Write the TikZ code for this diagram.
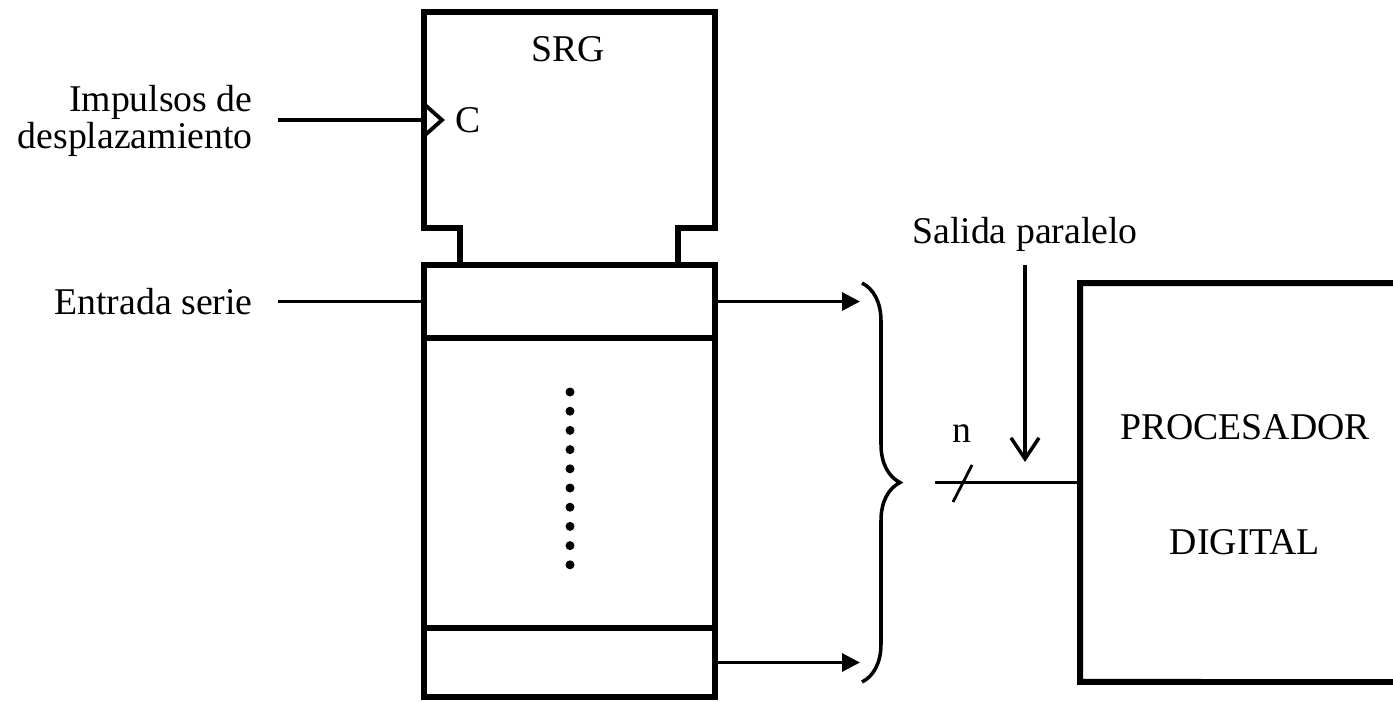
\documentclass[tikz,border=0pt]{standalone}
\usepackage{fontspec}
\setmainfont{Liberation Serif}
\usetikzlibrary{arrows.meta,positioning,decorations.pathreplacing}
\newcommand\dgfont{\fontsize{21.5}{26}\selectfont}
\tikzset{
  blk/.style    ={draw, rectangle, inner sep=0pt, outer sep=0pt,
                  minimum width=5.82cm, line width=3.4pt},
  procbox/.style={rectangle, inner sep=0pt, outer sep=0pt,
                  minimum width=8cm, minimum height=7.98cm},
  lbl/.style    ={font=\dgfont, inner xsep=0.5cm, inner ysep=2pt},
  wire/.style   ={line width=2.2pt},
  outarr/.style ={-{Triangle[length=0.36cm, width=0.36cm]}, line width=1.8pt},
  inarr/.style  ={-{Straight Barb[length=0.42cm, width=0.56cm, line width=2pt]},
                  line width=1.8pt},
  bus/.style    ={line width=2.2pt},
}
\begin{document}
\begin{tikzpicture}[x=0.02cm, y=-0.02cm]
  \useasboundingbox (0,0) rectangle (1393,701);
  % ---- control block of the shift register
  \coordinate (cl) at (460,265);
  \coordinate (cr) at (678,265);
  \draw[line width=3.4pt] (cl) -- (460,228) -- (424,228) -- (424,12)
    -- (715,12) -- (715,228) -- (678,228) -- (cr);
  \node[font=\dgfont] (srg) at (568,49) {SRG};
  \node[font=\dgfont] (clkc) at (468,120) {C};
  \coordinate (clk) at (424,120);
  \draw[wire] (424,104) -- (442,120) -- (424,136);
  \node[lbl, anchor=east, align=right,
        font=\fontsize{21.5}{21.5}\selectfont] (imp) at (278,121)
    {Impulsos de\\desplazamiento};
  \draw[wire] (imp.east |- clk) -- (clk);
  % ---- register cells
  \node[blk, minimum height=1.46cm] (cin)  at (569.5,301.5) {};
  \node[blk, minimum height=5.80cm] (cmid) at (569.5,483)   {};
  \node[blk, minimum height=1.38cm] (cout) at (569.5,662.5) {};
  \foreach \i in {0,...,9}
    \fill (570,392+\i*19.2) circle (0.09cm);
  \node[lbl, anchor=east] (ent) at (278,301.5) {Entrada serie};
  \draw[wire] (ent.east) -- (cin.west);
  % ---- parallel outputs
  \coordinate (o1) at (860,301.5);
  \coordinate (o2) at (860,662.5);
  \draw[outarr] (cin.east) -- (o1);
  \draw[outarr] (cout.east) -- (o2);
  \draw[line width=2pt, decorate, decoration={brace, amplitude=0.76cm}]
    (862,283) -- (862,682);
  % ---- processor (its right side lies past the page edge)
  \node[procbox] (proc) at (1280,482.5) {};
  \coordinate (pne) at (1500,283);
  \coordinate (pse) at (1500,682);
  \draw[line width=3.4pt] (pne) -- (proc.north west)
    -- (proc.south west) -- (pse);
  \node[font=\dgfont, align=center] (proct) at (1245,485)
    {PROCESADOR\\[1.39cm]DIGITAL};
  \coordinate (bus) at (935,482.5);
  \draw[bus] (bus) -- (proc.west);
  \draw[line width=1.6pt] (953,502) -- (972,465);
  \node[font=\dgfont] (nlab) at (962,434) {n};
  \node[font=\dgfont] (sal) at (1025,234) {Salida paralelo};
  \coordinate (sa) at (1025,265);
  \coordinate (sb) at (1025,462);
  \draw[inarr] (sa) -- (sb);
\end{tikzpicture}
\end{document}
